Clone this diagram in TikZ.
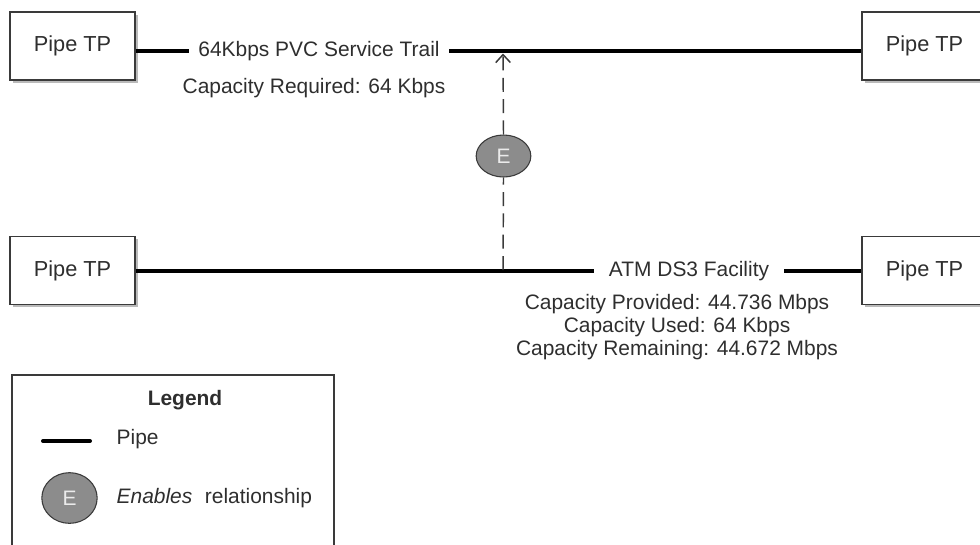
\documentclass[tikz,border=0pt]{standalone}
\usepackage{fontspec}
\setmainfont{Liberation Sans}
\usetikzlibrary{shapes.geometric, arrows.meta, shadows}
\definecolor{txt}{HTML}{2E2E2E}
\definecolor{edge}{HTML}{3A3A3A}
\definecolor{efill}{HTML}{8C8C8C}
\begin{document}
\begin{tikzpicture}[x=0.75pt, y=-0.75pt,
  every node/.style={font=\fontsize{15.7}{17}\selectfont, text=txt},
  tpbox/.style={draw=edge, line width=1.1pt, fill=white, minimum width=93.75pt, minimum height=51pt, inner sep=0pt,
    font=\fontsize{16.3}{17}\selectfont,
    drop shadow={shadow xshift=2.2pt, shadow yshift=-2.2pt, fill=black!45, opacity=0.6}},
  pipe/.style={line width=3pt, black},
  enab/.style={ellipse, draw=edge, line width=0.8pt, fill=efill, inner sep=0pt, text=black!8},
  rel/.style={dashed, dash pattern=on 10.5pt off 5.5pt, line width=1.1pt, draw=edge},
  lbl/.style={inner ysep=0pt}
]
\clip (0,0) rectangle (980,544);
% boxes
\node[tpbox] (tl) at (72.5,46) {Pipe TP};
\node[tpbox] (tr) at (924.5,46) {Pipe TP};
\node[tpbox] (bl) at (72.5,270.5) {Pipe TP};
\node[tpbox] (br) at (924.5,270.5) {Pipe TP};
% top trail
\node[lbl, inner xsep=7pt] (t1) at (319,51) {64Kbps PVC Service Trail};
\node[lbl] (t2) at (314,88) {Capacity Required: 64 Kbps};
\draw[pipe] ([yshift=-3.75pt]tl.east) -- (t1.west);
\draw[pipe] (t1.east) -- ([yshift=-3.75pt]tr.west);
% bottom facility
\node[lbl, inner xsep=11pt] (f1) at (689,271) {ATM DS3 Facility};
\node[lbl, align=center] (f2) at (677,327) {Capacity Provided: 44.736 Mbps\\Capacity Used: 64 Kbps\\Capacity Remaining: 44.672 Mbps};
\draw[pipe] (bl.east |- f1.west) -- (f1.west);
\draw[pipe] (f1.east) -- (br.west |- f1.east);
% enables relationship
\coordinate (rb) at (503,270);
\coordinate (rt) at (503,53.5);
\node[enab, minimum width=41pt, minimum height=31.5pt] (E) at (503.5,156) {E};
\draw[rel] (rb) -- (E.south);
\draw[rel, -{Straight Barb[length=6pt, width=11pt, line width=1.1pt]}] (E.north) -- (rt);
% legend
\draw[draw=edge, line width=1.1pt] (12,375) rectangle (334,570);
\node[lbl, font=\fontsize{15.7}{17}\selectfont\bfseries] (lg) at (185,400) {Legend};
\coordinate (lp1) at (43,441);
\coordinate (lp2) at (90,441);
\draw[pipe, line cap=round] (lp1) -- (lp2);
\node[lbl, anchor=west] (lpt) at (112,439) {Pipe};
\node[enab, minimum width=41.5pt, minimum height=38pt] (LE) at (69.5,498) {E};
\node[lbl, anchor=west] (let) at (112,498) {\textit{Enables}\hspace{0.6em}relationship};
\end{tikzpicture}
\end{document}
